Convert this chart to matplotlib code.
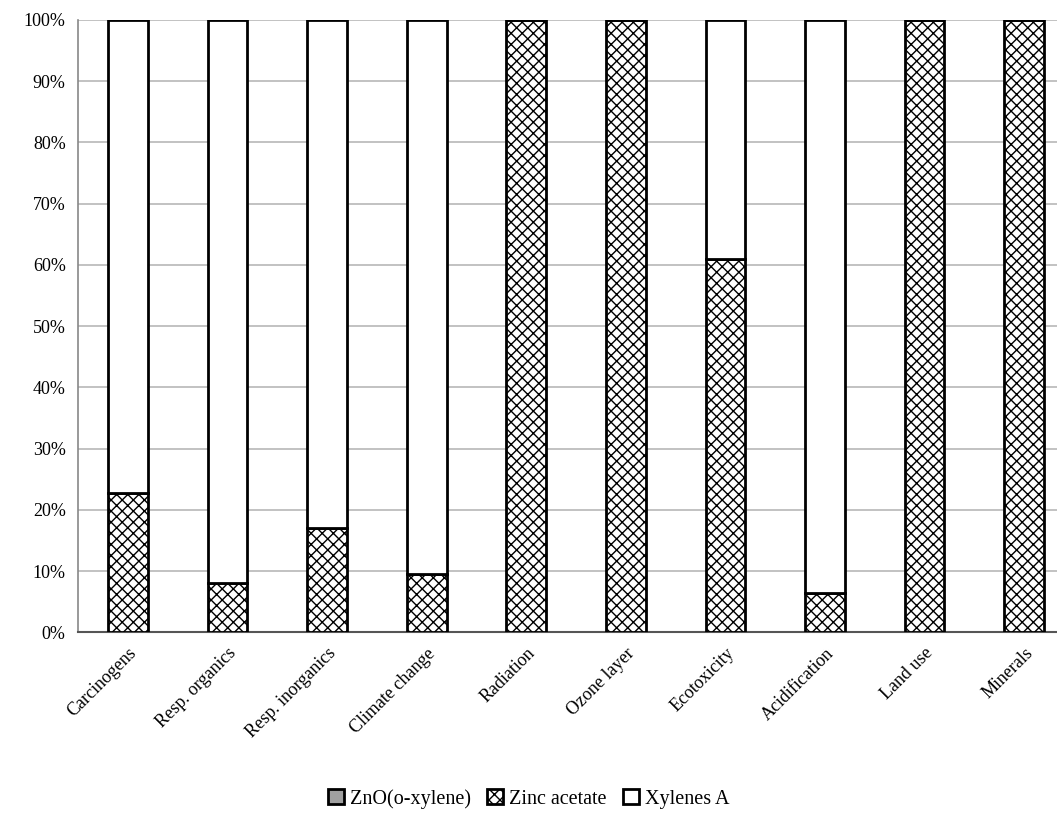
import numpy as np
import matplotlib.pyplot as plt

categories = ['Carcinogens', 'Resp. organics', 'Resp. inorganics', 'Climate change',
              'Radiation', 'Ozone layer', 'Ecotoxicity', 'Acidification',
              'Land use', 'Minerals']
zno = [0, 0, 0, 0, 0, 0, 0, 0, 0, 0]
zinc_acetate = [22.7, 8.0, 17.0, 9.6, 100, 100, 61.0, 6.5, 100, 100]
xylenes = [77.3, 92.0, 83.0, 90.4, 0, 0, 39.0, 93.5, 0, 0]
yticks = np.arange(0, 101, 10)

plt.rcParams['font.family'] = ['Liberation Serif', 'DejaVu Serif']
plt.rcParams['hatch.linewidth'] = 1.0

fig = plt.figure(figsize=(10.57, 8.31), dpi=100)
ax = fig.add_axes([0.074, 0.239, 0.926, 0.737])

x = np.arange(len(categories))
w = 0.4
b1 = ax.bar(x, zno, w, color='#a0a0a0', edgecolor='black', linewidth=2, zorder=3,
            label='ZnO(o-xylene)')
b2 = ax.bar(x, zinc_acetate, w, bottom=zno, color='white', edgecolor='black',
            hatch='xxx', linewidth=2, zorder=3, label='Zinc acetate')
bottom2 = np.array(zno) + np.array(zinc_acetate)
b3 = ax.bar(x, xylenes, w, bottom=bottom2, color='white', edgecolor='black',
            linewidth=2, zorder=3, label='Xylenes A')

ax.set_xlim(-0.5, 9.33)
ax.set_ylim(0, 100)
ax.set_yticks(yticks)
ax.set_yticklabels([f'{v}%' for v in yticks], fontsize=13)
ax.yaxis.grid(True, color='#b8b8b8', linewidth=1.2, zorder=0)
ax.tick_params(axis='both', length=0, pad=9)
ax.set_xticks(x)
ax.set_xticklabels(categories, rotation=45, ha='right', rotation_mode='anchor',
                   fontsize=13)

for s in ['top', 'right']:
    ax.spines[s].set_visible(False)
ax.spines['left'].set_color('#888888')
ax.spines['left'].set_linewidth(1.2)
ax.spines['bottom'].set_color('#555555')
ax.spines['bottom'].set_linewidth(1.5)

fig.legend(handles=[b1, b2, b3], loc='lower center', bbox_to_anchor=(0.5, 0.005),
           ncol=3, frameon=False, fontsize=14.5, handlelength=0.8, handleheight=0.8,
           handletextpad=0.3, columnspacing=0.8)

fig.savefig('out.png', dpi=100)
